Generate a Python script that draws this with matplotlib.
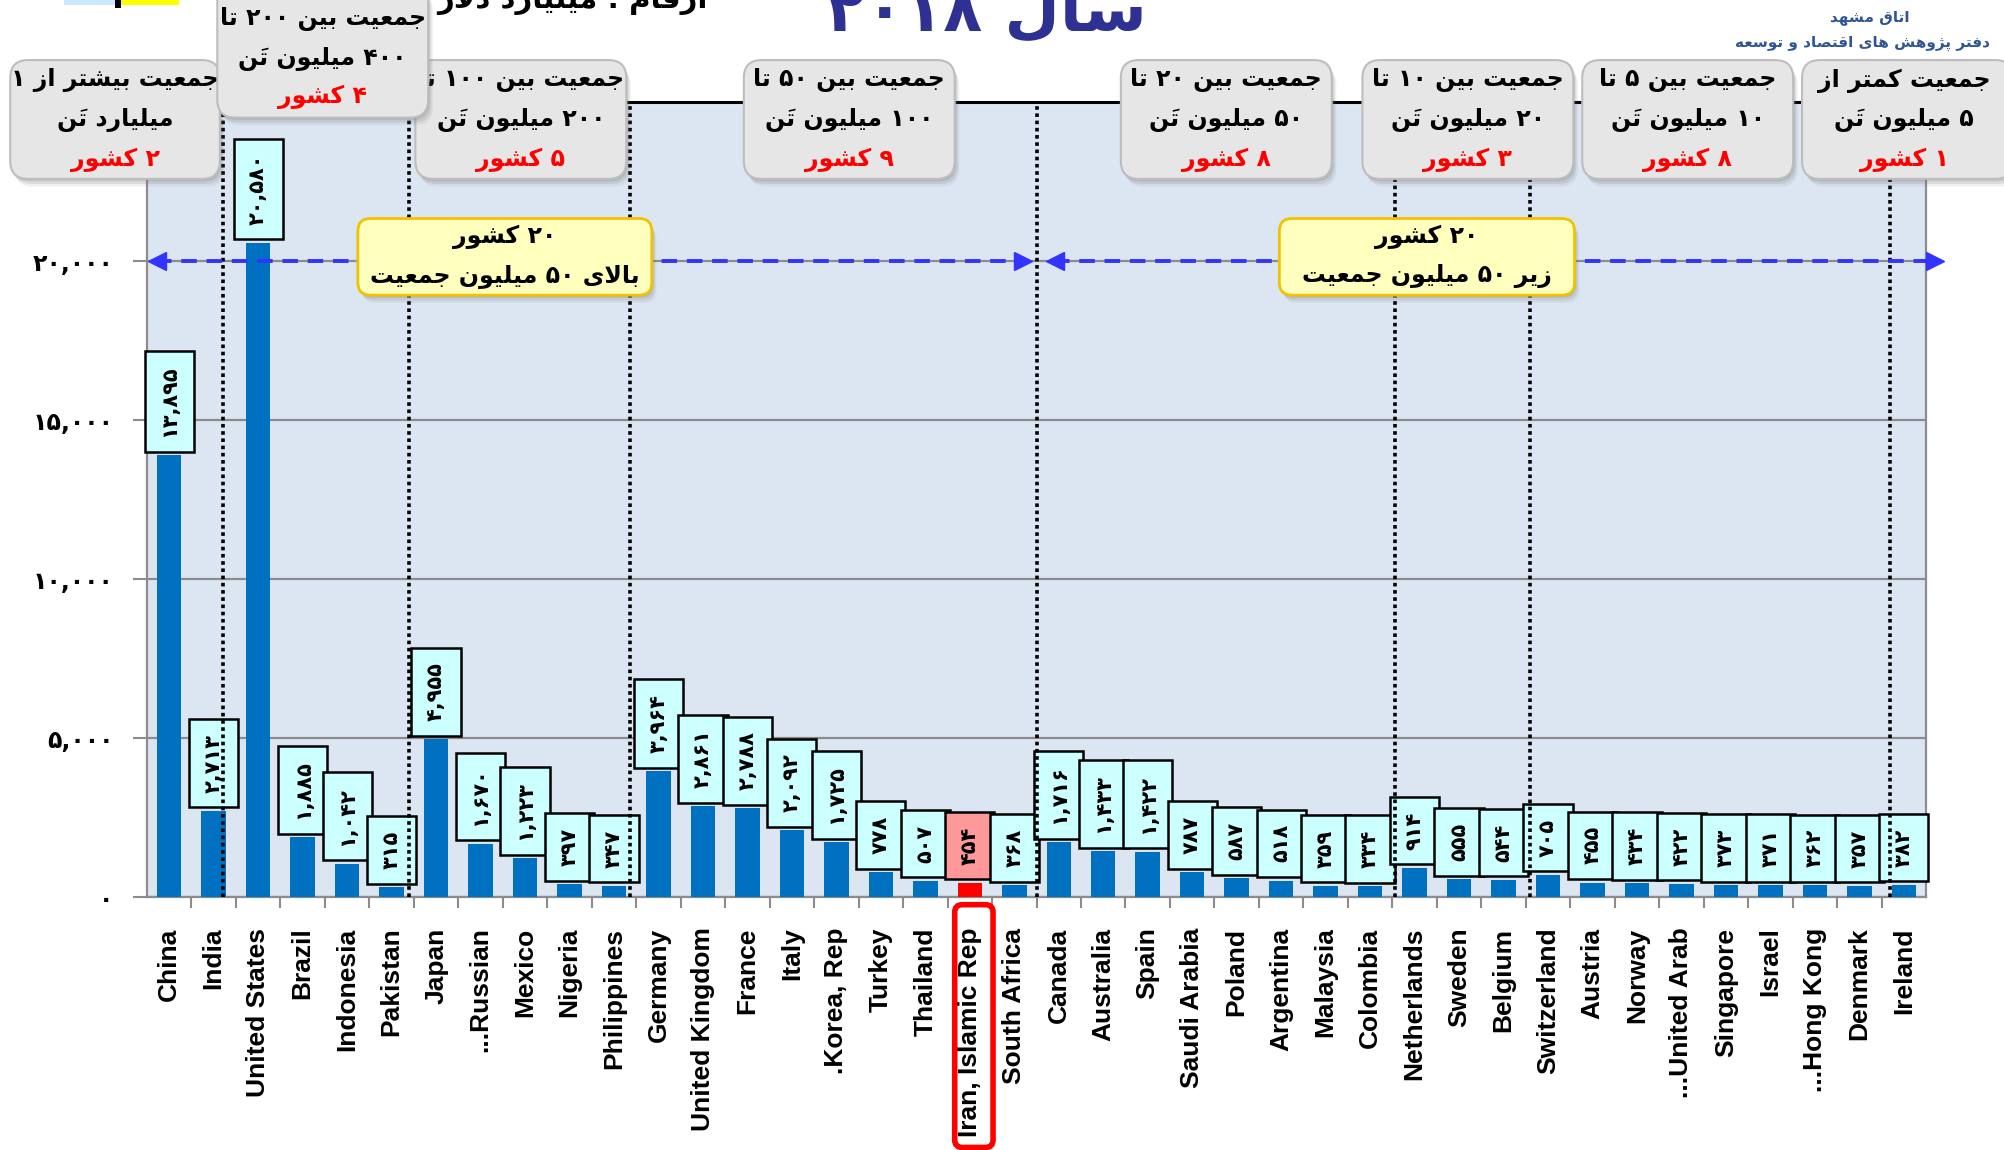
import matplotlib
matplotlib.use('Agg')
import matplotlib.pyplot as plt
from matplotlib.patches import FancyBboxPatch, Rectangle

# GDP 2018, billion dollars
countries = ['China', 'India', 'United States', 'Brazil', 'Indonesia', 'Pakistan',
             'Japan', '...Russian', 'Mexico', 'Nigeria', 'Philippines',
             'Germany', 'United Kingdom', 'France', 'Italy', '.Korea, Rep', 'Turkey',
             'Thailand', 'Iran, Islamic Rep', 'South Africa',
             'Canada', 'Australia', 'Spain', 'Saudi Arabia', 'Poland', 'Argentina',
             'Malaysia', 'Colombia', 'Netherlands', 'Sweden', 'Belgium',
             'Switzerland', 'Austria', 'Norway', '...United Arab', 'Singapore',
             'Israel', '...Hong Kong', 'Denmark', 'Ireland']
gdp = [13895, 2713, 20580, 1885, 1042, 315,
       4955, 1670, 1223, 397, 347,
       3964, 2861, 2788, 2092, 1725, 778, 507, 454, 368,
       1716, 1433, 1422, 787, 587, 518, 359, 334,
       914, 555, 544,
       705, 455, 434, 422, 373, 371, 362, 357,
       382]
highlight = 'Iran, Islamic Rep'
y_ticks = [0, 5000, 10000, 15000, 20000]
group_lines = [1.22, 5.4, 10.35, 19.5, 27.55, 30.6, 38.7]

group_titles = [
    ('جمعیت بیشتر از ۱', 'میلیارد تَن', '۲ کشور'),
    ('جمعیت بین ۲۰۰ تا', '۴۰۰ میلیون تَن', '۴ کشور'),
    ('جمعیت بین ۱۰۰ تا', '۲۰۰ میلیون تَن', '۵ کشور'),
    ('جمعیت بین ۵۰ تا', '۱۰۰ میلیون تَن', '۹ کشور'),
    ('جمعیت بین ۲۰ تا', '۵۰ میلیون تَن', '۸ کشور'),
    ('جمعیت بین ۱۰ تا', '۲۰ میلیون تَن', '۳ کشور'),
    ('جمعیت بین ۵ تا', '۱۰ میلیون تَن', '۸ کشور'),
    ('جمعیت کمتر از', '۵ میلیون تَن', '۱ کشور'),
]
big_label = ('۲۰ کشور', 'بالای ۵۰ میلیون جمعیت')
small_label = ('۲۰ کشور', 'زیر ۵۰ میلیون جمعیت')
title = 'سال ۲۰۱۸'
unit_text = 'ارقام : میلیارد دلار'
source_lines = ('اتاق مشهد', 'دفتر پژوهش های اقتصاد و توسعه')

# --- minimal Persian shaping (matplotlib has no RTL / joining support) ---
FORMS = {
    '\u0627': (0xFE8D, 0xFE8E, None, None),
    '\u0628': (0xFE8F, 0xFE90, 0xFE91, 0xFE92),
    '\u067E': (0xFB56, 0xFB57, 0xFB58, 0xFB59),
    '\u062A': (0xFE95, 0xFE96, 0xFE97, 0xFE98),
    '\u062C': (0xFE9D, 0xFE9E, 0xFE9F, 0xFEA0),
    '\u062F': (0xFEA9, 0xFEAA, None, None),
    '\u0631': (0xFEAD, 0xFEAE, None, None),
    '\u0632': (0xFEAF, 0xFEB0, None, None),
    '\u0698': (0xFB8A, 0xFB8B, None, None),
    '\u0633': (0xFEB1, 0xFEB2, 0xFEB3, 0xFEB4),
    '\u0634': (0xFEB5, 0xFEB6, 0xFEB7, 0xFEB8),
    '\u0635': (0xFEB9, 0xFEBA, 0xFEBB, 0xFEBC),
    '\u0639': (0xFEC9, 0xFECA, 0xFECB, 0xFECC),
    '\u0641': (0xFED1, 0xFED2, 0xFED3, 0xFED4),
    '\u0642': (0xFED5, 0xFED6, 0xFED7, 0xFED8),
    '\u06A9': (0xFB8E, 0xFB8F, 0xFB90, 0xFB91),
    '\u0644': (0xFEDD, 0xFEDE, 0xFEDF, 0xFEE0),
    '\u0645': (0xFEE1, 0xFEE2, 0xFEE3, 0xFEE4),
    '\u0646': (0xFEE5, 0xFEE6, 0xFEE7, 0xFEE8),
    '\u0647': (0xFEE9, 0xFEEA, 0xFEEB, 0xFEEC),
    '\u0648': (0xFEED, 0xFEEE, None, None),
    '\u06CC': (0xFBFC, 0xFBFD, 0xFBFE, 0xFBFF),
}
MARKS = '\u064E'
DIGITS = set('۰۱۲۳۴۵۶۷۸۹0123456789')


def shape(s):
    s = s.replace('\u064A', '\u06CC').replace('\u0643', '\u06A9')
    ch = list(s)
    n = len(ch)
    out = []
    i = 0
    while i < n:
        c = ch[i]
        if c in MARKS:
            if out:
                out[-1] += c
            else:
                out.append(c)
            i += 1
            continue
        if c not in FORMS:
            out.append(c)
            i += 1
            continue
        j = i - 1
        while j >= 0 and ch[j] in MARKS:
            j -= 1
        prev = ch[j] if j >= 0 else None
        join_prev = prev in FORMS and FORMS[prev][2] is not None
        k = i + 1
        while k < n and ch[k] in MARKS:
            k += 1
        nxt = ch[k] if k < n else None
        if c == '\u0644' and nxt == '\u0627':
            out.append(chr(0xFEFC if join_prev else 0xFEFB))
            i = k + 1
            continue
        iso, fin, ini, med = FORMS[c]
        join_next = ini is not None and nxt in FORMS
        if join_prev and join_next:
            g = med
        elif join_prev:
            g = fin
        elif join_next:
            g = ini
        else:
            g = iso
        out.append(chr(g))
        i += 1
    return out


def rtl(text):
    lines = []
    for line in text.split('\n'):
        cl = shape(line)
        runs = []
        for k, c in enumerate(cl):
            num = c in DIGITS or (c == ',' and 0 < k < len(cl) - 1
                                  and cl[k - 1] in DIGITS and cl[k + 1] in DIGITS)
            if runs and runs[-1][0] == num:
                runs[-1][1].append(c)
            else:
                runs.append([num, [c]])
        s = ''
        for num, items in reversed(runs):
            # marks go before their base so they sit over it
            s += ''.join(items if num else [it[::-1] for it in reversed(items)])
        lines.append(s)
    return '\n'.join(lines)


def fa(n):
    return f'{n:,}'.translate(str.maketrans('0123456789', '۰۱۲۳۴۵۶۷۸۹'))


FA = 'DejaVu Sans'
W, H = 1568, 900  # layout grid of the reference


def fx(x):
    return x / W


def fy(y):
    return 1 - y / H


fig = plt.figure(figsize=(20.04, 11.5), dpi=100)
ASPECT = 2004 / 1150


def rbox(x0, y0, x1, y1, fc, ec, lw=1.5, r=14, z=10, shadow=True):
    if shadow:
        for off, a in ((6, 0.10), (4, 0.15), (2, 0.2)):
            fig.patches.append(FancyBboxPatch(
                (fx(x0 + off * 0.6), fy(y1 + off)), (x1 - x0) / W, (y1 - y0) / H,
                boxstyle=f'round,pad=0,rounding_size={r / W}', mutation_aspect=ASPECT,
                transform=fig.transFigure, fc='#707070', ec='none', alpha=a, zorder=z))
    fig.patches.append(FancyBboxPatch(
        (fx(x0), fy(y1)), (x1 - x0) / W, (y1 - y0) / H,
        boxstyle=f'round,pad=0,rounding_size={r / W}', mutation_aspect=ASPECT,
        transform=fig.transFigure, fc=fc, ec=ec, lw=lw, zorder=z))


ax = fig.add_axes([fx(115), fy(702), (1507 - 115) / W, (702 - 80) / H])
ax.set_facecolor('#DCE6F2')
x = list(range(len(countries)))
colors = ['#FF0000' if c == highlight else '#0070C0' for c in countries]
ax.bar(x, gdp, width=0.55, color=colors, zorder=3)
ax.set_xlim(-0.5, len(countries) - 0.5)
ax.set_ylim(0, 25000)
ax.set_axisbelow(True)
ax.yaxis.grid(True, color='#8C8C8C', lw=1.6)

for i, v in enumerate(gdp):
    fc = '#FF9999' if countries[i] == highlight else '#CCFFFF'
    ax.annotate(fa(v), (i, v), xytext=(0, 13), textcoords='offset points',
                rotation=90, ha='center', va='bottom', fontsize=15,
                fontweight='bold', family=FA, zorder=5,
                bbox=dict(boxstyle='square,pad=0.7', fc=fc, ec='black', lw=1.8))

for gx in group_lines:
    ax.axvline(gx, color='black', lw=2.6, ls=(0, (1, 1)), zorder=6)

# blue dashed arrows at 20,000
for x0, x1 in ((-0.5, 19.41), (19.7, 39.93)):
    ax.plot([x0 + 0.2, x1 - 0.2], [20000, 20000], color='#3333FF', lw=2.8,
            ls=(0, (4, 2.5)), clip_on=False, zorder=7)
    ax.plot([x0 + 0.22], [20000], marker='<', ms=13, color='#3333FF', clip_on=False, zorder=7)
    ax.plot([x1 - 0.22], [20000], marker='>', ms=13, color='#3333FF', clip_on=False, zorder=7)

ax.set_yticks(y_ticks)
ax.set_yticklabels([fa(v) for v in y_ticks], fontsize=17, fontweight='bold', family=FA)
ax.tick_params(axis='y', length=10, color='#8C8C8C', width=1.5, pad=14)
ax.set_xticks(x)
ax.set_xticklabels(countries, rotation=90, fontsize=19, fontweight='bold',
                   family='Liberation Sans', va='top')
ax.tick_params(axis='x', length=0, pad=22)
ax.set_xticks([i + 0.5 for i in x[:-1]], minor=True)
ax.tick_params(axis='x', which='minor', length=8, color='#8C8C8C', width=1.5)
for s in ('left', 'bottom', 'right'):
    ax.spines[s].set_color('#8C8C8C')
    ax.spines[s].set_linewidth(1.6)
ax.spines['top'].set_color('black')
ax.spines['top'].set_linewidth(2.2)

# header boxes
boxes = [(8, 47, 172, 140), (170, -12, 335, 92), (325, 47, 490, 140), (582, 47, 747, 140),
         (877, 47, 1042, 140), (1066, 47, 1231, 140), (1238, 47, 1403, 140),
         (1410, 47, 1575, 140)]
for n, ((x0, y0, x1, y1), lines) in enumerate(zip(boxes, group_titles)):
    z = 12 if n == 1 else 10
    rbox(x0, y0, x1, y1, '#E6E6E6', '#BDBDBD', z=z)
    ys = (15, 46, 76) if n == 1 else (y0 + 16, y0 + 47, y0 + 78)
    cx = (x0 + x1) / 2 if n != 7 else 1490
    for t, yy, col in zip(lines, ys, ('black', 'black', '#FF0000')):
        fig.text(fx(cx), fy(yy), rtl(t), ha='center', va='center', fontsize=17,
                 fontweight='bold', family=FA, color=col, zorder=z + 0.5)

# yellow call-outs
for (x0, x1), lines in (((280, 510), big_label), ((1001, 1232), small_label)):
    rbox(x0, 171, x1, 231, '#FFFFBE', '#F2C200', lw=2, r=10, z=10)
    for t, yy in zip(lines, (185, 216)):
        fig.text(fx((x0 + x1) / 2), fy(yy), rtl(t), ha='center', va='center', fontsize=17,
                 fontweight='bold', family=FA, zorder=11)

# red frame round the Iran label
rbox(747, 708, 777, 898, 'none', '#FF0000', lw=4, r=6, z=10, shadow=False)

# titles
fig.text(fx(772), fy(24), rtl(title), ha='center', va='baseline', fontsize=46,
         fontweight='bold', family=FA, color='#2E3192')
fig.text(fx(448), fy(6), rtl(unit_text), ha='center', va='baseline', fontsize=21,
         fontweight='bold', family=FA, color='black')
fig.text(fx(1463), fy(14), rtl(source_lines[0]), ha='center', va='center', fontsize=11,
         fontweight='bold', family=FA, color='#2F5597')
fig.text(fx(1557), fy(34), rtl(source_lines[1]), ha='right', va='center', fontsize=11,
         fontweight='bold', family=FA, color='#2F5597')

# bits of the legend cut off at the top
fig.patches.append(Rectangle((fx(50), fy(4)), 40 / W, 4 / H, transform=fig.transFigure,
                             fc='#CCE8FF', ec='none'))
fig.patches.append(Rectangle((fx(90), fy(6)), 5 / W, 6 / H, transform=fig.transFigure,
                             fc='black', ec='none'))
fig.patches.append(Rectangle((fx(95), fy(4)), 45 / W, 4 / H, transform=fig.transFigure,
                             fc='#FFFF00', ec='none'))

fig.savefig('out.png', dpi=100)
